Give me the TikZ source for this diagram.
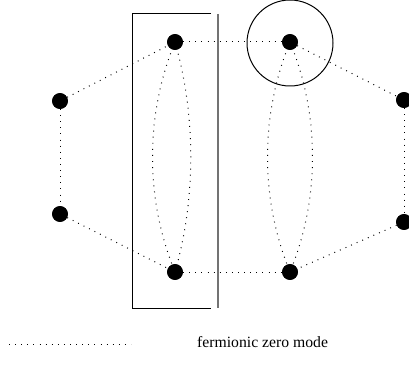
\documentclass[tikz,border=0pt]{standalone}
\usepackage{fontspec}
\setmainfont{Liberation Serif}
\begin{document}
\begin{tikzpicture}[x=1pt,y=-1pt,
  site/.style={circle,fill=black,inner sep=0pt,minimum size=15.8pt},
  fzm/.style={line width=1pt,dash pattern=on 0.9pt off 5.2pt,line cap=butt},
  frame/.style={line width=1pt}]
\useasboundingbox (0,0) rectangle (409,374);
\node[site] (A) at (175,42) {};
\node[site] (B) at (290,42) {};
\node[site] (C) at (60,101) {};
\node[site] (D) at (404,100) {};
\node[site] (E) at (60,214) {};
\node[site] (F) at (404,222) {};
\node[site] (G) at (175,272) {};
\node[site] (H) at (290,272) {};
% dotted connectors
\draw[fzm] (A) -- (B);
\draw[fzm] (G) -- (H);
\draw[fzm] (C) -- (A);
\draw[fzm] (C) -- (E);
\draw[fzm] (E) -- (G);
\draw[fzm] (B) -- (D);
\draw[fzm] (D) -- (F);
\draw[fzm] (F) -- (H);
% lenses
\draw[fzm] (A.center) .. controls (145,115) and (145,199) .. (G.center);
\draw[fzm] (A.center) .. controls (196,115) and (196,199) .. (G.center);
\draw[fzm] (B.center) .. controls (260,115) and (260,199) .. (H.center);
\draw[fzm] (B.center) .. controls (320,115) and (320,199) .. (H.center);
\foreach \n in {A,B,C,D,E,F,G,H} \node[site] at (\n) {};
% frame
\coordinate (r1) at (211,14);
\coordinate (r2) at (132,14);
\coordinate (r3) at (132,308);
\coordinate (r4) at (211,308);
\draw[frame] (r1) -- (r2) -- (r3) -- (r4);
\coordinate (v1) at (218,14);
\coordinate (v2) at (218,308);
\draw[frame,draw=black!55,line width=1.4pt] (v1) -- (v2);
\node[circle,draw,line width=1pt,minimum size=86pt,inner sep=0pt] (ring) at (290,43) {};
% legend
\coordinate (l1) at (9,344);
\coordinate (l2) at (131,344);
\draw[fzm] (l1) -- (l2);
\node[anchor=base west,inner sep=0pt,font=\fontsize{15.7}{18}\selectfont] (lab) at (197,347) {fermionic zero mode};
\end{tikzpicture}
\end{document}
